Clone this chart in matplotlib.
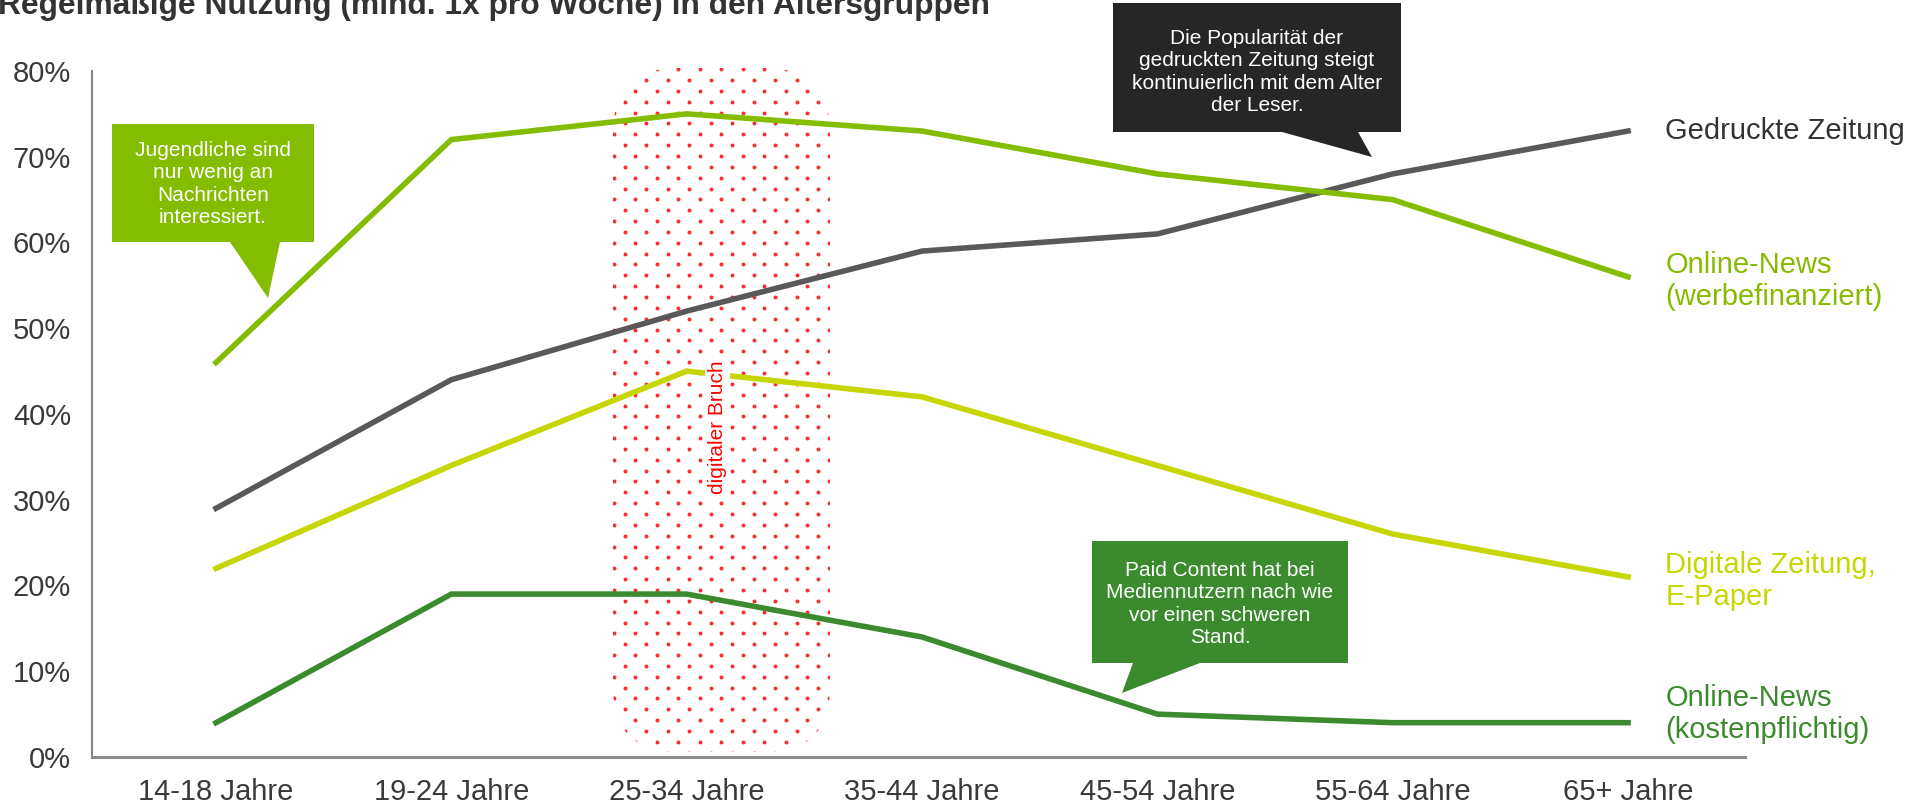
import matplotlib
matplotlib.use("Agg")
import matplotlib.pyplot as plt
import numpy as np
from matplotlib.patches import Polygon, FancyBboxPatch
from matplotlib.transforms import Affine2D, IdentityTransform

plt.rcParams['font.family'] = ['Liberation Sans', 'DejaVu Sans']

W, H = 1924, 806

# --- data -------------------------------------------------------------
age_groups = ["14-18 Jahre", "19-24 Jahre", "25-34 Jahre", "35-44 Jahre",
              "45-54 Jahre", "55-64 Jahre", "65+ Jahre"]
gedruckte_zeitung = [29, 44, 52, 59, 61, 68, 73]
online_werbefinanziert = [46, 72, 75, 73, 68, 65, 56]
digitale_zeitung = [22, 34, 45, 42, 34, 26, 21]
online_kostenpflichtig = [4, 19, 19, 14, 5, 4, 4]

series_labels = ["Gedruckte Zeitung", "Online-News\n(werbefinanziert)",
                 "Digitale Zeitung,\nE-Paper", "Online-News\n(kostenpflichtig)"]
y_ticks = [0, 10, 20, 30, 40, 50, 60, 70, 80]
y_tick_labels = [f"{v}%" for v in y_ticks]

title = "Regelmäßige Nutzung (mind. 1x pro Woche) in den Altersgruppen"
note_youth = "Jugendliche sind\nnur wenig an\nNachrichten\ninteressiert."
note_print = "Die Popularität der\ngedruckten Zeitung steigt\nkontinuierlich mit dem Alter\nder Leser."
note_paid = "Paid Content hat bei\nMediennutzern nach wie\nvor einen schweren\nStand."
break_label = "digitaler Bruch"

# --- styling ----------------------------------------------------------
c_print = "#595959"
c_werbe = "#84BC00"
c_digital = "#C5D600"
c_paid = "#3B8A2E"
c_dark_box = "#262626"
c_text = "#3a3a3a"

series = [gedruckte_zeitung, online_werbefinanziert, digitale_zeitung, online_kostenpflichtig]
colors = [c_print, c_werbe, c_digital, c_paid]
label_colors = ["#333333", c_werbe, c_digital, c_paid]
label_y = [73, 55.5, 20.5, 5]

fig = plt.figure(figsize=(W / 100, H / 100), dpi=100)
ax = fig.add_axes([92 / W, 1 - 757 / H, (1745 - 92) / W, (757 - 71) / H])

x = np.arange(len(age_groups))
for vals, col in zip(series, colors):
    ax.plot(x, vals, color=col, lw=4.0, solid_joinstyle='miter', zorder=3)

ax.set_xlim(-0.527, 6.497)
ax.set_ylim(0, 80)
ax.set_xticks(x, age_groups)
ax.set_yticks(y_ticks, y_tick_labels)
ax.tick_params(length=0, labelsize=21, labelcolor=c_text, pad=15)
for side in ("top", "right"):
    ax.spines[side].set_visible(False)
ax.spines["left"].set_color("#858585")
ax.spines["left"].set_linewidth(1.5)
ax.spines["bottom"].set_color("#8a8a8a")
ax.spines["bottom"].set_linewidth(2.2)

# series names at the line ends
for name, yy, col in zip(series_labels, label_y, label_colors):
    ax.text(6.158, yy, name, color=col, fontsize=21, va="center", ha="left",
            clip_on=False, linespacing=1.2)

# pixel-space transform (origin top-left)
px = Affine2D().scale(1, -1).translate(0, H)

# dotted "digital break" band
band = FancyBboxPatch((613, H - 752), 217, 684,
                      boxstyle="round,pad=0,rounding_size=65",
                      transform=IdentityTransform(), facecolor="none", edgecolor="none")
dx, dy = 21.5, 10.85
dots_x, dots_y = [], []
for r in range(-3, 66):
    yy = 80 + r * dy
    x0 = 646 if r % 2 == 0 else 635
    for k in range(-3, 12):
        dots_x.append(x0 + k * dx)
        dots_y.append(H - yy)
sc = ax.scatter(dots_x, dots_y, s=8, color="#ff2a2a", linewidths=0,
                transform=IdentityTransform(), zorder=1)
sc.set_clip_path(band)

ax.text(2.13, 38.5, break_label, rotation=90, color="#ff0000", fontsize=15,
        ha="center", va="center", zorder=4,
        bbox=dict(boxstyle="square,pad=0.15", facecolor="white", edgecolor="none"))

# callouts
def callout(points, color, text, center, txt_color="white"):
    fig.add_artist(Polygon(points, closed=True, facecolor=color, edgecolor="none",
                           transform=px, zorder=5))
    fig.text(center[0], center[1], text, transform=px, color=txt_color,
             fontsize=15, ha="center", va="center", linespacing=1.22,
             multialignment="center", zorder=6)

callout([(112, 124), (314, 124), (314, 242), (280, 242), (268, 298), (230, 242), (112, 242)],
        c_werbe, note_youth, (213, 184))
callout([(1113, 3), (1401, 3), (1401, 132), (1358, 132), (1372, 157), (1282, 132), (1113, 132)],
        c_dark_box, note_print, (1257, 72))
callout([(1092, 541), (1348, 541), (1348, 663), (1200, 663), (1122, 693), (1133, 663), (1092, 663)],
        c_paid, note_paid, (1220, 604))

fig.text(-2, 14, title, transform=px, fontsize=22.9, fontweight="bold",
         color="#333333", ha="left", va="baseline")

fig.savefig("out.png", dpi=100)
